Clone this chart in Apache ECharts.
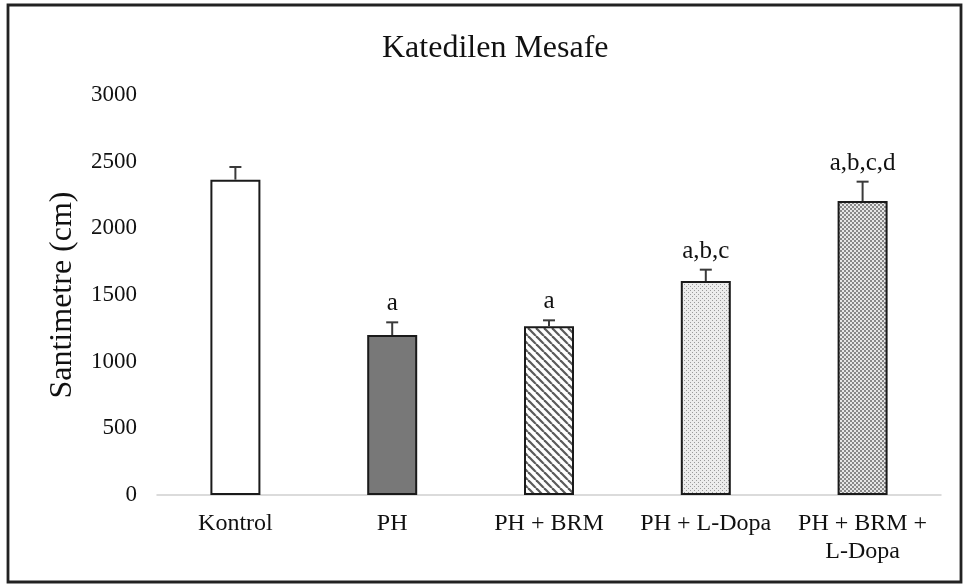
<!DOCTYPE html>
<html>
<head>
<meta charset="utf-8">
<script src="https://cdn.jsdelivr.net/npm/echarts@6/dist/echarts.min.js"></script>
<style>html,body{margin:0;padding:0;background:#fff}#c{width:963px;height:586px}</style>
</head>
<body>
<div id="c"></div>
<script>
var titleText = 'Katedilen Mesafe';
var yAxisName = 'Santimetre (cm)';
var categories = ['Kontrol', 'PH', 'PH + BRM', 'PH + L-Dopa', 'PH + BRM +\nL-Dopa'];
var means = [2365, 1200, 1265, 1605, 2205];
var errors = [95, 95, 45, 85, 145];
var sigLabels = ['', 'a', 'a', 'a,b,c', 'a,b,c,d'];
var yMin = 0, yMax = 3000, yInterval = 500;

var FONT = '"Liberation Serif", "Times New Roman", serif';

function makeCanvas(w, h, draw) {
  var c = document.createElement('canvas');
  c.width = w; c.height = h;
  draw(c.getContext('2d'));
  return c;
}
var stripe = makeCanvas(8, 8, function (ctx) {
  ctx.fillStyle = '#fff'; ctx.fillRect(0, 0, 8, 8);
  ctx.strokeStyle = '#5a5a5a'; ctx.lineWidth = 2.2;
  for (var k = -1; k <= 1; k++) {
    ctx.beginPath(); ctx.moveTo(k * 8, 0); ctx.lineTo(k * 8 + 8, 8); ctx.stroke();
  }
});
var lightDots = makeCanvas(4, 4, function (ctx) {
  ctx.fillStyle = '#ececec'; ctx.fillRect(0, 0, 4, 4);
  ctx.fillStyle = '#9a9a9a';
  ctx.fillRect(0, 0, 1, 1); ctx.fillRect(2, 2, 1, 1);
});
var darkDots = makeCanvas(4, 4, function (ctx) {
  ctx.fillStyle = '#888888'; ctx.fillRect(0, 0, 4, 4);
  ctx.fillStyle = '#e6e6e6';
  ctx.fillRect(0, 0, 2, 2); ctx.fillRect(2, 2, 2, 2);
});

var fills = [
  '#ffffff',
  '#787878',
  { image: stripe, repeat: 'repeat' },
  { image: lightDots, repeat: 'repeat' },
  { image: darkDots, repeat: 'repeat' }
];

var barData = means.map(function (v, i) {
  return { value: v, itemStyle: { color: fills[i] } };
});
var errData = means.map(function (v, i) { return [i, v, v + errors[i], sigLabels[i]]; });

var chart = echarts.init(document.getElementById('c'), null, { renderer: 'canvas' });
chart.setOption({
  animation: false,
  backgroundColor: '#fff',
  title: {
    text: titleText, left: 377, top: 28,
    textStyle: { fontFamily: FONT, fontSize: 32, fontWeight: 'normal', color: '#111' }
  },
  grid: { left: 157, right: 22, top: 95, bottom: 91 },
  xAxis: {
    type: 'category', data: categories,
    axisLine: { lineStyle: { color: '#d0d0d0', width: 1.5 } },
    axisTick: { show: false },
    axisLabel: { fontFamily: FONT, fontSize: 24, color: '#111', margin: 15, lineHeight: 28, interval: 0 }
  },
  yAxis: {
    type: 'value', min: yMin, max: yMax, interval: yInterval,
    name: yAxisName, nameLocation: 'middle', nameGap: 78, nameRotate: 90,
    nameTextStyle: { fontFamily: FONT, fontSize: 32, color: '#111' },
    axisLine: { show: false }, axisTick: { show: false },
    splitLine: { show: false },
    axisLabel: { fontFamily: FONT, fontSize: 23, color: '#111', margin: 20,
      formatter: function (v) { return String(v); } }
  },
  graphic: [{
    type: 'rect', shape: { x: 8, y: 5, width: 953, height: 577 },
    style: { fill: 'none', stroke: '#222', lineWidth: 2.8 }, z: 100
  }],
  series: [
    {
      type: 'bar', data: barData, barWidth: 50,
      itemStyle: { borderColor: '#1a1a1a', borderWidth: 2 }
    },
    {
      type: 'custom', data: errData, z: 5,
      renderItem: function (params, api) {
        var x = api.value(0);
        var p0 = api.coord([x, api.value(1)]);
        var p1 = api.coord([x, api.value(2)]);
        var cap = 6;
        var children = [
          { type: 'line', shape: { x1: p0[0], y1: p0[1], x2: p1[0], y2: p1[1] }, style: { stroke: '#3a3a3a', lineWidth: 2 } },
          { type: 'line', shape: { x1: p1[0] - cap, y1: p1[1], x2: p1[0] + cap, y2: p1[1] }, style: { stroke: '#3a3a3a', lineWidth: 2 } }
        ];
        var lbl = api.value(3);
        if (lbl) {
          children.push({
            type: 'text',
            style: { text: lbl, x: p1[0], y: p1[1] - 6, align: 'center', verticalAlign: 'bottom',
              font: '25px ' + FONT, fill: '#111' }
          });
        }
        return { type: 'group', children: children };
      }
    }
  ]
});
</script>
</body>
</html>
